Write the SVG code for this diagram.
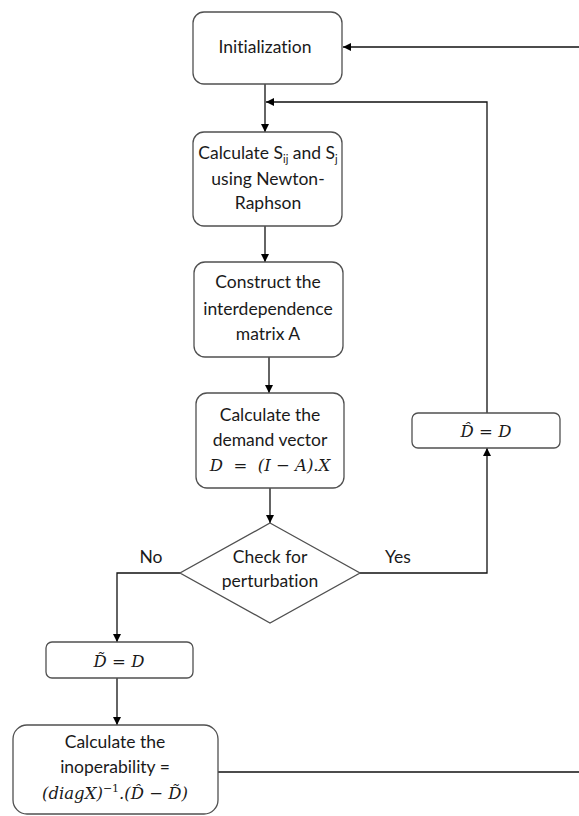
<svg xmlns="http://www.w3.org/2000/svg" width="579" height="816" viewBox="0 0 579 816">
<style>
.box{fill:#fff;stroke:#505050;stroke-width:1.3}
.t{font-family:Lato,"Open Sans","Liberation Sans",sans-serif;font-size:17.5px;fill:#1a1a1a;text-anchor:middle;font-variant-ligatures:none}
.m{font-family:"DejaVu Serif","Liberation Serif",serif;font-style:italic;font-size:16.5px;fill:#1a1a1a;text-anchor:middle}
.c{fill:none;stroke:#111;stroke-width:1.3}
</style>
<defs>
<marker id="ah" viewBox="0 0 10 10" refX="10" refY="5" markerWidth="8" markerHeight="8" markerUnits="userSpaceOnUse" orient="auto">
<path d="M0,0 L10,5 L0,10 z" fill="#000"/>
</marker>
</defs>
<rect width="579" height="816" fill="#fff"/>
<g id="connectors">
<path class="c" d="M579,47 H343" marker-end="url(#ah)"/>
<path class="c" d="M265,84 V132" marker-end="url(#ah)"/>
<path class="c" d="M487,413 V102 H266" marker-end="url(#ah)"/>
<path class="c" d="M265,226 V262" marker-end="url(#ah)"/>
<path class="c" d="M269,357 V393" marker-end="url(#ah)"/>
<path class="c" d="M270,488 V523" marker-end="url(#ah)"/>
<path class="c" d="M360,573 H487 V448" marker-end="url(#ah)"/>
<path class="c" d="M180,573 H117 V642" marker-end="url(#ah)"/>
<path class="c" d="M117,678 V725" marker-end="url(#ah)"/>
<path class="c" d="M218,772 H579"/>
<text class="t" x="151" y="563">No</text>
<text class="t" x="398" y="563">Yes</text>
</g>
<g id="init">
<rect class="box" x="193" y="12" width="149" height="72" rx="11"/>
<text class="t" x="265" y="53">Initialization</text>
</g>
<g id="calcS">
<rect class="box" x="193" y="132" width="149" height="94" rx="11"/>
<text class="t" x="268" y="159">Calculate S<tspan font-size="11" dy="4">ij</tspan><tspan dy="-4"> and S</tspan><tspan font-size="11" dy="4">j</tspan></text>
<text class="t" x="268" y="185">using Newton-</text>
<text class="t" x="268" y="209">Raphson</text>
</g>
<g id="constructA">
<rect class="box" x="194" y="262" width="149" height="95" rx="11"/>
<text class="t" x="268" y="288">Construct the</text>
<text class="t" x="268" y="315">interdependence</text>
<text class="t" x="268" y="340">matrix A</text>
</g>
<g id="demand">
<rect class="box" x="196" y="393" width="148" height="95" rx="11"/>
<text class="t" x="270" y="421">Calculate the</text>
<text class="t" x="270" y="446">demand vector</text>
<text class="m" x="270" y="471" xml:space="preserve">D  =  (I − A).X</text>
</g>
<g id="check">
<polygon class="box" points="270,523 360,573 270,623 180,573"/>
<text class="t" x="270" y="563">Check for</text>
<text class="t" x="270" y="587">perturbation</text>
</g>
<g id="dhat">
<rect class="box" x="412" y="413" width="148" height="35" rx="6"/>
<text class="m" x="486" y="437">D̂ = D</text>
</g>
<g id="dtilde">
<rect class="box" x="46" y="642" width="147" height="36" rx="6"/>
<text class="m" x="119" y="667">D̃ = D</text>
</g>
<g id="inoperability">
<rect class="box" x="13" y="725" width="205" height="89" rx="14"/>
<text class="t" x="115" y="748">Calculate the</text>
<text class="t" x="115" y="773">inoperability =</text>
<text class="m" x="115" y="799">(diagX)<tspan font-size="11" dy="-7" font-style="normal">−1</tspan><tspan dy="7">.(D̂ − D̃)</tspan></text>
</g>
</svg>
